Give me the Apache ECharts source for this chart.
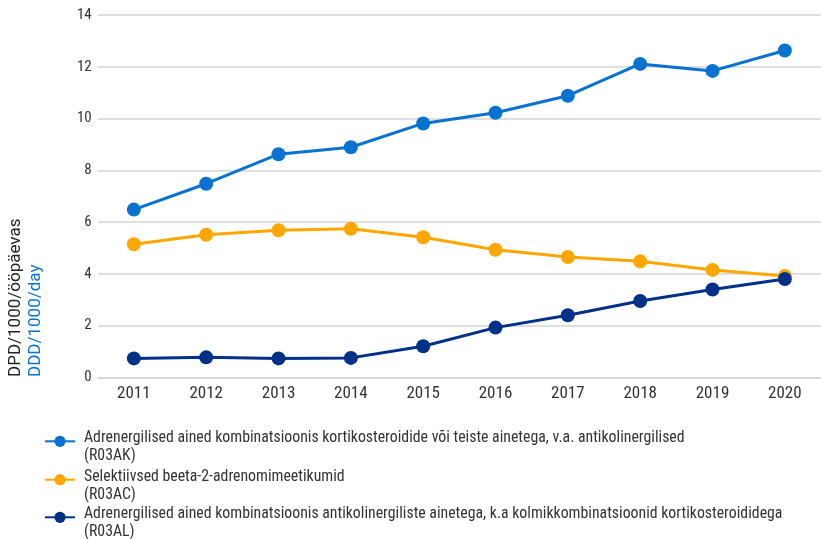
<!DOCTYPE html>
<html>
<head>
<meta charset="utf-8">
<script src="https://cdn.jsdelivr.net/npm/echarts@6/dist/echarts.min.js"></script>
<style>
  html, body { margin: 0; padding: 0; background: #ffffff; }
  #chart { width: 821px; height: 539px; }
</style>
</head>
<body>
<div id="chart"></div>
<script>
// Years on the category axis
const years = ['2011', '2012', '2013', '2014', '2015', '2016', '2017', '2018', '2019', '2020'];

// Series names (two-line legend entries)
const nameAK = 'Adrenergilised ained kombinatsioonis kortikosteroidide või teiste ainetega, v.a. antikolinergilised\n(R03AK)';
const nameAC = 'Selektiivsed beeta-2-adrenomimeetikumid\n(R03AC)';
const nameAL = 'Adrenergilised ained kombinatsioonis antikolinergiliste ainetega, k.a kolmikkombinatsioonid kortikosteroididega\n(R03AL)';

// DPD/1000/day values
const valuesAK = [6.48, 7.48, 8.62, 8.89, 9.81, 10.22, 10.88, 12.11, 11.84, 12.63];
const valuesAC = [5.14, 5.51, 5.68, 5.74, 5.41, 4.93, 4.65, 4.48, 4.15, 3.91];
const valuesAL = [0.73, 0.77, 0.73, 0.75, 1.20, 1.92, 2.40, 2.95, 3.39, 3.80];

// Value-axis ticks
const yMin = 0, yMax = 14, yStep = 2;

const colorAK = '#0872d0';
const colorAC = '#ffa600';
const colorAL = '#003087';

const narrow = "'Roboto Condensed', 'Liberation Sans Narrow', 'DejaVu Sans Condensed', Roboto, sans-serif";

const chart = echarts.init(document.getElementById('chart'), null, { renderer: 'canvas' });

function lineSeries(name, data, color) {
  return {
    name: name,
    type: 'line',
    data: data,
    symbol: 'circle',
    symbolSize: 14,
    showAllSymbol: true,
    lineStyle: { color: color, width: 3 },
    itemStyle: { color: color },
    emphasis: { disabled: true },
    animation: false
  };
}

// One legend block per series. A short blank line above the name pushes
// the text down so the icon sits beside the first line.
function legendFor(name, top) {
  return {
    data: [name],
    left: 44,
    top: top,
    padding: 0,
    itemWidth: 30,
    itemHeight: 14,
    itemGap: 0,
    selectedMode: false,
    formatter: function (n) {
      return '{g|\u00a0}\n' + n.split('\n').map(function (s) { return '{t|' + s + '}'; }).join('\n');
    },
    textStyle: {
      rich: {
        g: { fontSize: 8, lineHeight: 12, padding: [0, 0, 0, 4] },
        t: {
          fontFamily: narrow,
          fontSize: 15.8,
          lineHeight: 18,
          color: '#333333',
          padding: [0, 0, 0, 4]
        }
      }
    }
  };
}

chart.setOption({
  backgroundColor: '#ffffff',
  animation: false,
  grid: { left: 97.7, right: -2.6, top: 15, bottom: 161.7, containLabel: false },
  xAxis: {
    type: 'category',
    data: years,
    boundaryGap: true,
    axisLine: { show: true, lineStyle: { color: '#d4d4d4', width: 1.5 } },
    axisTick: { show: false },
    axisLabel: { fontFamily: narrow, fontSize: 17, color: '#333333', margin: 8 },
    splitLine: { show: false }
  },
  yAxis: {
    type: 'value',
    min: yMin,
    max: yMax,
    interval: yStep,
    axisLine: { show: false },
    axisTick: { show: false },
    axisLabel: { fontFamily: narrow, fontSize: 15, color: '#333333', margin: 6 },
    splitLine: { lineStyle: { color: '#d4d4d4', width: 1.5 } }
  },
  legend: [
    legendFor(nameAK, 419.3),
    legendFor(nameAC, 457.7),
    legendFor(nameAL, 495.3)
  ],
  graphic: [
    {
      type: 'text',
      x: 24,
      y: 377,
      rotation: Math.PI / 2,
      style: {
        text: 'DPD/1000/ööpäevas',
        fill: '#222222',
        font: '17px Roboto, sans-serif',
        align: 'left',
        verticalAlign: 'bottom'
      }
    },
    {
      type: 'text',
      x: 44,
      y: 377,
      rotation: Math.PI / 2,
      style: {
        text: 'DDD/1000/day',
        fill: colorAK,
        font: '17px Roboto, sans-serif',
        align: 'left',
        verticalAlign: 'bottom'
      }
    }
  ],
  series: [
    lineSeries(nameAK, valuesAK, colorAK),
    lineSeries(nameAC, valuesAC, colorAC),
    lineSeries(nameAL, valuesAL, colorAL)
  ]
});
</script>
</body>
</html>
